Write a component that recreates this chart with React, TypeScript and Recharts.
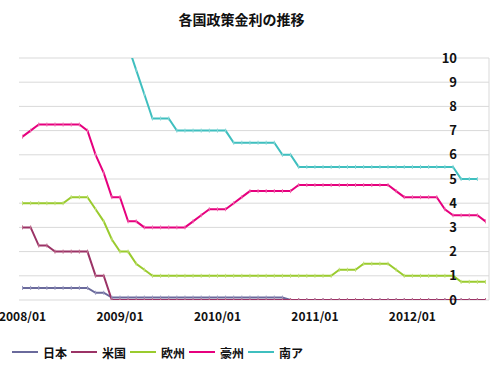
import { LineChart, Line, XAxis, YAxis, CartesianGrid, Legend } from "recharts";

const FONT = "'Noto Sans CJK JP', 'Noto Sans', sans-serif";

const months = [
  "2008/01", "2008/02", "2008/03", "2008/04", "2008/05", "2008/06", "2008/07", "2008/08", "2008/09", "2008/10", "2008/11", "2008/12",
  "2009/01", "2009/02", "2009/03", "2009/04", "2009/05", "2009/06", "2009/07", "2009/08", "2009/09", "2009/10", "2009/11", "2009/12",
  "2010/01", "2010/02", "2010/03", "2010/04", "2010/05", "2010/06", "2010/07", "2010/08", "2010/09", "2010/10", "2010/11", "2010/12",
  "2011/01", "2011/02", "2011/03", "2011/04", "2011/05", "2011/06", "2011/07", "2011/08", "2011/09", "2011/10", "2011/11", "2011/12",
  "2012/01", "2012/02", "2012/03", "2012/04", "2012/05", "2012/06", "2012/07", "2012/08", "2012/09", "2012/10",
];

// 日本
const japan = [
  0.5, 0.5, 0.5, 0.5, 0.5, 0.5, 0.5, 0.5, 0.5, 0.3, 0.3, 0.1,
  0.1, 0.1, 0.1, 0.1, 0.1, 0.1, 0.1, 0.1, 0.1, 0.1, 0.1, 0.1,
  0.1, 0.1, 0.1, 0.1, 0.1, 0.1, 0.1, 0.1, 0.1, 0, 0, 0,
  0, 0, 0, 0, 0, 0, 0, 0, 0, 0, 0, 0,
  0, 0, 0, 0, 0, 0, 0, 0, 0, 0,
];
// 米国
const us = [
  3, 3, 2.25, 2.25, 2, 2, 2, 2, 2, 1, 1, 0,
  0, 0, 0, 0, 0, 0, 0, 0, 0, 0, 0, 0,
  0, 0, 0, 0, 0, 0, 0, 0, 0, 0, 0, 0,
  0, 0, 0, 0, 0, 0, 0, 0, 0, 0, 0, 0,
  0, 0, 0, 0, 0, 0, 0, 0, 0, 0,
];
// 欧州
const europe = [
  4, 4, 4, 4, 4, 4, 4.25, 4.25, 4.25, 3.75, 3.25, 2.5,
  2, 2, 1.5, 1.25, 1, 1, 1, 1, 1, 1, 1, 1,
  1, 1, 1, 1, 1, 1, 1, 1, 1, 1, 1, 1,
  1, 1, 1, 1.25, 1.25, 1.25, 1.5, 1.5, 1.5, 1.5, 1.25, 1,
  1, 1, 1, 1, 1, 1, 0.75, 0.75, 0.75, 0.75,
];
// 豪州
const australia = [
  6.75, 7, 7.25, 7.25, 7.25, 7.25, 7.25, 7.25, 7, 6, 5.25, 4.25,
  4.25, 3.25, 3.25, 3, 3, 3, 3, 3, 3, 3.25, 3.5, 3.75,
  3.75, 3.75, 4, 4.25, 4.5, 4.5, 4.5, 4.5, 4.5, 4.5, 4.75, 4.75,
  4.75, 4.75, 4.75, 4.75, 4.75, 4.75, 4.75, 4.75, 4.75, 4.75, 4.5, 4.25,
  4.25, 4.25, 4.25, 4.25, 3.75, 3.5, 3.5, 3.5, 3.5, 3.25,
];
// 南ア
const southAfrica = [
  11, 11, 11, 11.5, 11.5, 12, 12, 12, 12, 12, 12, 11.5,
  11.5, 10.5, 9.5, 8.5, 7.5, 7.5, 7.5, 7, 7, 7, 7, 7,
  7, 7, 6.5, 6.5, 6.5, 6.5, 6.5, 6.5, 6, 6, 5.5, 5.5,
  5.5, 5.5, 5.5, 5.5, 5.5, 5.5, 5.5, 5.5, 5.5, 5.5, 5.5, 5.5,
  5.5, 5.5, 5.5, 5.5, 5.5, 5.5, 5, 5, 5, null,
];

const xTicks = ["2008/01", "2009/01", "2010/01", "2011/01", "2012/01"];
const yTicks = [0, 1, 2, 3, 4, 5, 6, 7, 8, 9, 10];

const series = [
  { key: "jp", name: "日本", color: "#6a6a9c", mark: "#9a9ac0" },
  { key: "us", name: "米国", color: "#9b3366", mark: "#c0708f" },
  { key: "eu", name: "欧州", color: "#9acb2e", mark: "#c2e07a" },
  { key: "au", name: "豪州", color: "#e6007e", mark: "#f070b0" },
  { key: "za", name: "南ア", color: "#3fbfbf", mark: "#8ad8d8" },
];

const data = months.map((m, i) => ({
  m,
  jp: japan[i],
  us: us[i],
  eu: europe[i],
  au: australia[i],
  za: southAfrica[i],
}));

const XTick = ({ x, y, payload }: any) => (
  <text x={x} y={y + 21} textAnchor="middle" fontSize={12} fontWeight="bold" fill="#111" fontFamily={FONT}>
    {payload.value}
  </text>
);

const YTick = ({ y, payload }: any) => (
  <text x={457} y={y + 4.5} textAnchor="end" fontSize={13} fontWeight="bold" fill="#111" fontFamily={FONT}>
    {payload.value}
  </text>
);

const makeDot = (color: string) => (props: any) => {
  const { cx, cy, index } = props;
  if (cx == null || cy == null || props.value == null) return <g key={index} />;
  return <rect key={index} x={cx - 0.5} y={cy - 2} width={1} height={4} fill={color} />;
};

const LegendBox = () => (
  <div style={{ display: "flex", height: 20, alignItems: "center", fontFamily: FONT, fontWeight: "bold", fontSize: 12, color: "#111" }}>
    {series.map((s) => (
      <div key={s.key} style={{ display: "flex", alignItems: "center", width: 59 }}>
        <div style={{ width: 26, height: 2, background: s.color, marginRight: 5 }} />
        <span>{s.name}</span>
      </div>
    ))}
  </div>
);

export default function App() {
  return (
    <div style={{ position: "absolute", left: 0, top: 0, width: 490, height: 366, background: "#fff" }}>
      <div style={{ position: "absolute", left: 0, top: 8, width: 483, height: 22, lineHeight: "22px", textAlign: "center", fontFamily: FONT, fontWeight: "bold", fontSize: 14, color: "#111" }}>
        各国政策金利の推移
      </div>
      <LineChart width={490} height={366} data={data} margin={{ top: 58, right: 0, bottom: 16, left: 19 }}>
        <CartesianGrid horizontal vertical={false} stroke="#d9d9d9" />
        <XAxis
          dataKey="m"
          ticks={xTicks}
          interval={0}
          axisLine={false}
          tickLine={false}
          tickSize={0}
          tickMargin={0}
          height={30}
          padding={{ left: 3.5, right: 3.5 }}
          tick={<XTick />}
        />
        <YAxis
          orientation="right"
          width={1}
          domain={[0, 10]}
          ticks={yTicks}
          interval={0}
          allowDataOverflow
          axisLine={{ stroke: "#d9d9d9" }}
          tickLine={false}
          tick={<YTick />}
        />
        <Legend
          verticalAlign="bottom"
          content={<LegendBox />}
          wrapperStyle={{ left: 12, top: 342, bottom: "auto", width: 320, height: 20 }}
        />
        {series.map((s) => (
          <Line
            key={s.key}
            dataKey={s.key}
            name={s.name}
            type="linear"
            stroke={s.color}
            strokeWidth={2}
            dot={makeDot(s.mark)}
            activeDot={false}
            connectNulls={false}
            isAnimationActive={false}
          />
        ))}
      </LineChart>
    </div>
  );
}
